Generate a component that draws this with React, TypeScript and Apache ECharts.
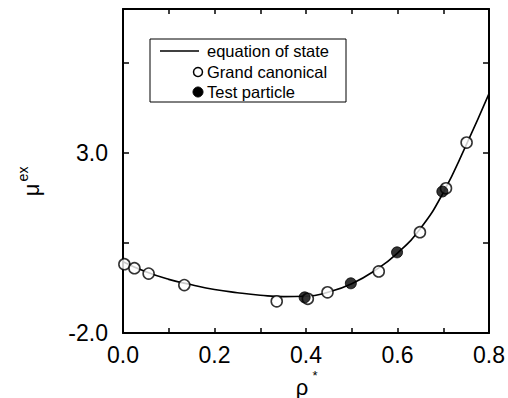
import React, { useEffect, useRef } from "react";
import * as echarts from "echarts";

const eosRho = [0.0, 0.05, 0.1, 0.15, 0.2, 0.25, 0.3, 0.35, 0.4, 0.45, 0.5, 0.55, 0.6, 0.65, 0.7, 0.75, 0.8];
const eosMu = [-0.02, -0.3, -0.51, -0.66, -0.79, -0.88, -0.95, -0.99, -0.98, -0.86, -0.63, -0.27, 0.22, 0.9, 1.9, 3.22, 4.65];

const gcRho = [0.003, 0.025, 0.056, 0.134, 0.336, 0.404, 0.447, 0.559, 0.649, 0.706, 0.751];
const gcMu = [-0.09, -0.2, -0.35, -0.67, -1.12, -1.05, -0.87, -0.29, 0.8, 2.02, 3.29];

const tpRho = [0.397, 0.498, 0.599, 0.698];
const tpMu = [-1.01, -0.62, 0.24, 1.93];

const xTicks = ["0.0", "0.2", "0.4", "0.6", "0.8"];
const yTicks = ["-2.0", "3.0"];

const legendNames = ["equation of state", "Grand canonical", "Test particle"];

const FONT = "Liberation Sans, Arial, Helvetica, sans-serif";

export default function App() {
  const ref = useRef<HTMLDivElement>(null);
  useEffect(() => {
    if (!ref.current) return;
    const chart = echarts.init(ref.current, undefined, { renderer: "svg" });
    const axisLine = { show: true, onZero: false, lineStyle: { color: "#000", width: 2 } };
    const tick = { show: true, inside: true, length: 5, lineStyle: { color: "#000", width: 1.5 } };
    const fmtX = (v: number) => {
      const s = v.toFixed(1);
      return xTicks.includes(s) ? s : "";
    };
    const fmtY = (v: number) => {
      const s = v.toFixed(1);
      return yTicks.includes(s) ? s : "";
    };
    chart.setOption({
      animation: false,
      backgroundColor: "#fff",
      grid: { left: 123, right: 15, top: 9, bottom: 65, containLabel: false },
      xAxis: [
        {
          type: "value",
          position: "bottom",
          min: 0,
          max: 0.8,
          interval: 0.1,
          axisLine,
          axisTick: tick,
          axisLabel: { formatter: fmtX, color: "#000", fontSize: 23, fontFamily: FONT, margin: 10 },
          splitLine: { show: false },
        },
        {
          type: "value",
          position: "top",
          min: 0,
          max: 0.8,
          interval: 0.1,
          axisLine,
          axisTick: tick,
          axisLabel: { show: false },
          splitLine: { show: false },
        },
      ],
      yAxis: [
        {
          type: "value",
          position: "left",
          min: -2,
          max: 7,
          interval: 2.5,
          axisLine,
          axisTick: { ...tick, length: 6 },
          axisLabel: { formatter: fmtY, color: "#000", fontSize: 23, fontFamily: FONT, margin: 15 },
          splitLine: { show: false },
        },
        {
          type: "value",
          position: "right",
          min: -2,
          max: 7,
          interval: 2.5,
          axisLine,
          axisTick: { ...tick, length: 6 },
          axisLabel: { show: false },
          splitLine: { show: false },
        },
      ],
      series: [
        {
          name: legendNames[0],
          type: "line",
          smooth: true,
          showSymbol: false,
          symbol: "none",
          data: eosRho.map((r, i) => [r, eosMu[i]]),
          lineStyle: { color: "#000", width: 1.6 },
          z: 2,
        },
        {
          name: legendNames[1],
          type: "scatter",
          symbol: "circle",
          symbolSize: 11,
          data: gcRho.map((r, i) => [r, gcMu[i]]),
          itemStyle: { color: "#fff", borderColor: "#000", borderWidth: 1.6 },
          z: 3,
        },
        {
          name: legendNames[2],
          type: "scatter",
          symbol: "circle",
          symbolSize: 11,
          data: tpRho.map((r, i) => [r, tpMu[i]]),
          itemStyle: { color: "#000", borderColor: "#000", borderWidth: 1 },
          z: 4,
        },
      ],
      graphic: [
        {
          type: "rect",
          shape: { x: 150, y: 39, width: 196, height: 63 },
          style: { fill: "#fff", stroke: "#000", lineWidth: 1 },
          z: 10,
        },
        {
          type: "line",
          shape: { x1: 160, y1: 51, x2: 199, y2: 51 },
          style: { stroke: "#000", lineWidth: 1.6 },
          z: 11,
        },
        {
          type: "circle",
          shape: { cx: 198, cy: 72, r: 4.5 },
          style: { fill: "#fff", stroke: "#000", lineWidth: 1.5 },
          z: 11,
        },
        {
          type: "circle",
          shape: { cx: 198, cy: 92, r: 5 },
          style: { fill: "#000", stroke: "#000", lineWidth: 1 },
          z: 11,
        },
        {
          type: "text",
          x: 207,
          y: 51,
          style: { text: legendNames[0], font: `16.5px ${FONT}`, fill: "#000", textVerticalAlign: "middle" },
          z: 11,
        },
        {
          type: "text",
          x: 207,
          y: 72,
          style: { text: legendNames[1], font: `16.5px ${FONT}`, fill: "#000", textVerticalAlign: "middle" },
          z: 11,
        },
        {
          type: "text",
          x: 207,
          y: 92,
          style: { text: legendNames[2], font: `16.5px ${FONT}`, fill: "#000", textVerticalAlign: "middle" },
          z: 11,
        },
        {
          type: "text",
          x: 302,
          y: 387,
          style: { text: "ρ", font: `22px ${FONT}`, fill: "#000", textAlign: "center", textVerticalAlign: "middle" },
        },
        {
          type: "text",
          x: 315,
          y: 375,
          style: { text: "*", font: `13px ${FONT}`, fill: "#000", textAlign: "center", textVerticalAlign: "middle" },
        },
        {
          type: "text",
          x: 31,
          y: 190,
          rotation: Math.PI / 2,
          style: { text: "μ", font: `22px ${FONT}`, fill: "#000", textAlign: "center", textVerticalAlign: "middle" },
        },
        {
          type: "text",
          x: 23,
          y: 174,
          rotation: Math.PI / 2,
          style: { text: "ex", font: `14px ${FONT}`, fill: "#000", textAlign: "center", textVerticalAlign: "middle" },
        },
      ],
    });
    return () => chart.dispose();
  }, []);
  return (
    <div
      ref={ref}
      style={{ position: "fixed", left: 0, top: 0, width: 508, height: 398, background: "#fff" }}
    />
  );
}
